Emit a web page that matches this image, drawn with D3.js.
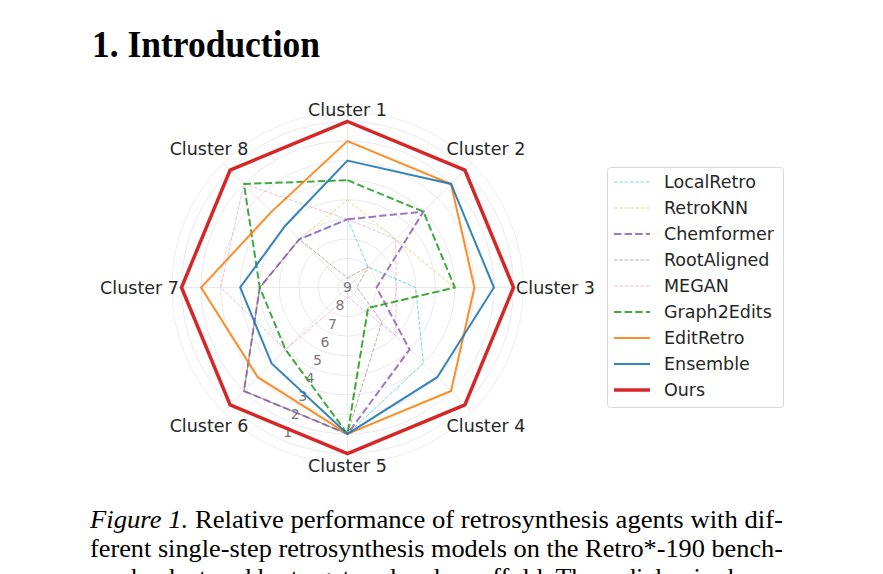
<!DOCTYPE html>
<html>
<head>
<meta charset="utf-8">
<script src="https://cdn.jsdelivr.net/npm/d3@7"></script>
<style>
  body { margin: 0; background: #fff; }
  svg { display: block; }
</style>
</head>
<body>
<script>
'use-strict';

// clusters on the spokes
let clusters = ["Cluster 1", "Cluster 2", "Cluster 3", "Cluster 4",
  "Cluster 5", "Cluster 6", "Cluster 7", "Cluster 8"];

// model names (legend order)
let models = ["LocalRetro", "RetroKNN", "Chemformer", "RootAligned", "MEGAN",
  "Graph2Edits", "EditRetro", "Ensemble", "Ours"];

// rank of each model per cluster (1 = best)
let localRetro = [6, 8, 6, 4, 2, 2, 5, 6];
let retroKNN = [5, 6, 4, 8, 2, 2, 5, 6];
let chemformer = [6, 4, 8, 5, 2, 2, 5, 6];
let rootAligned = [9, 8, 9, 7, 2, 2, 5, 6];
let megan = [6, 6, 7, 6, 9, 5, 3, 2];
let graph2Edits = [4, 4, 4, 8, 2, 5, 5, 2];
let editRetro = [2, 2, 3, 2, 2, 3, 2, 4];
let ensemble = [3, 2, 2, 3, 2, 4, 4, 5];
let ours = [1, 1, 1, 1, 1, 1, 1, 1];

// radial tick labels
let rankTicks = [1, 2, 3, 4, 5, 6, 7, 8, 9];

let rankData = [localRetro, retroKNN, chemformer, rootAligned, megan,
  graph2Edits, editRetro, ensemble, ours];

// line styles per model
let styles = [
  { color: "#17becf", width: 1, dash: "3.7,1.6", opacity: 0.6 },
  { color: "#bcbd22", width: 1, dash: "3.7,1.6", opacity: 0.5 },
  { color: "#9467bd", width: 2, dash: "7.4,3.2", opacity: 0.9 },
  { color: "#8c564b", width: 1, dash: "3.7,1.6", opacity: 0.5 },
  { color: "#e377c2", width: 1, dash: "3.7,1.6", opacity: 0.5 },
  { color: "#2ca02c", width: 2, dash: "7.4,3.2", opacity: 0.9 },
  { color: "#ff7f0e", width: 2, dash: null, opacity: 0.9 },
  { color: "#1f77b4", width: 2, dash: null, opacity: 0.9 },
  { color: "#d62728", width: 3.5, dash: null, opacity: 1 }
];

let width = 883, height = 574;
let cx = 347.5, cy = 287.5;

let svg = d3.select("body").append("svg")
  .attr("width", width)
  .attr("height", height);

// rank -> radius (rank 1 on the outside)
let rScale = d3.scaleLinear().domain([9, 1]).range([9.5, 166]);
let angle = d3.scalePoint().domain(clusters).range([0, 2 * Math.PI * 7 / 8]);

let chart = svg.append("g").attr("transform", "translate(" + cx + "," + cy + ")");

drawHeader();
drawGrid();
drawSeries();
drawLabels();
drawLegend();
drawCaption();

function drawHeader() {
  svg.append("text")
    .attr("x", 92)
    .attr("y", 57)
    .attr("font-family", "Liberation Serif, serif")
    .attr("font-weight", "bold")
    .attr("font-size", 38)
    .attr("textLength", 228)
    .attr("lengthAdjust", "spacingAndGlyphs")
    .text("1. Introduction");
}

// circles and spokes
function drawGrid() {
  let grid = chart.append("g");
  grid.selectAll(".ring")
    .data(rankTicks)
    .enter()
    .append("circle")
    .attr("r", d => rScale(d))
    .attr("fill", "none")
    .attr("stroke", "#e6e6e6")
    .attr("stroke-width", 0.9);

  grid.append("circle")
    .attr("r", rScale(0.5))
    .attr("fill", "none")
    .attr("stroke", "#ececec")
    .attr("stroke-width", 0.9);

  grid.selectAll(".spoke")
    .data(clusters)
    .enter()
    .append("line")
    .attr("x1", 0).attr("y1", 0)
    .attr("x2", d => rScale(0.5) * Math.sin(angle(d)))
    .attr("y2", d => -rScale(0.5) * Math.cos(angle(d)))
    .attr("stroke", "#e6e6e6")
    .attr("stroke-width", 0.9);

  // rank labels between cluster 5 and 6
  let a = Math.PI * 9 / 8;
  grid.selectAll(".rlabel")
    .data(rankTicks)
    .enter()
    .append("text")
    .attr("x", d => (rScale(d) - rScale(9)) * Math.sin(a))
    .attr("y", d => -(rScale(d) - rScale(9)) * Math.cos(a))
    .attr("dy", "0.35em")
    .attr("text-anchor", "middle")
    .attr("font-family", "DejaVu Sans, sans-serif")
    .attr("font-size", 14)
    .attr("fill", "#777")
    .text(d => d);
}

function drawSeries() {
  let line = d3.lineRadial()
    .angle((d, i) => angle(clusters[i]))
    .radius(d => rScale(d))
    .curve(d3.curveLinearClosed);

  chart.selectAll(".series")
    .data(rankData)
    .enter()
    .append("path")
    .attr("d", d => line(d))
    .attr("fill", "none")
    .attr("stroke", (d, i) => styles[i].color)
    .attr("stroke-width", (d, i) => styles[i].width)
    .attr("stroke-dasharray", (d, i) => styles[i].dash)
    .attr("stroke-opacity", (d, i) => styles[i].opacity)
    .attr("stroke-linejoin", "miter");
}

// cluster names round the outside
function drawLabels() {
  chart.selectAll(".clabel")
    .data(clusters)
    .enter()
    .append("text")
    .attr("x", d => {
      let a = angle(d);
      let dist = 178 + 30 * Math.pow(Math.abs(Math.sin(a)), 1.5);
      return dist * Math.sin(a);
    })
    .attr("y", d => {
      let a = angle(d);
      let dist = 178 + 30 * Math.pow(Math.abs(Math.sin(a)), 1.5);
      return -dist * Math.cos(a);
    })
    .attr("dy", "0.35em")
    .attr("text-anchor", "middle")
    .attr("font-family", "DejaVu Sans, sans-serif")
    .attr("font-size", 17.5)
    .attr("fill", "#262626")
    .text(d => d);
}

function drawLegend() {
  let lg = svg.append("g").attr("transform", "translate(607,167)");
  lg.append("rect")
    .attr("x", 0.5).attr("y", 0.5)
    .attr("width", 176).attr("height", 240)
    .attr("rx", 3)
    .attr("fill", "#fff")
    .attr("stroke", "#d9d9d9");

  let rows = lg.selectAll(".row")
    .data(models)
    .enter()
    .append("g")
    .attr("transform", (d, i) => "translate(0," + (15 + i * 26) + ")");

  rows.append("line")
    .attr("x1", 7).attr("x2", 43)
    .attr("y1", 0).attr("y2", 0)
    .attr("stroke", (d, i) => styles[i].color)
    .attr("stroke-width", (d, i) => styles[i].width)
    .attr("stroke-dasharray", (d, i) => styles[i].dash)
    .attr("stroke-opacity", (d, i) => styles[i].opacity);

  rows.append("text")
    .attr("x", 57)
    .attr("dy", "0.35em")
    .attr("font-family", "DejaVu Sans, sans-serif")
    .attr("font-size", 17.5)
    .attr("fill", "#262626")
    .text(d => d);
}

function drawCaption() {
  let font = "Liberation Serif, serif";
  let t1 = svg.append("text")
    .attr("x", 90).attr("y", 528)
    .attr("font-family", font)
    .attr("font-size", 26)
    .attr("textLength", 693)
    .attr("lengthAdjust", "spacingAndGlyphs");
  t1.append("tspan").attr("font-style", "italic").text("Figure 1.");
  t1.append("tspan").text(" Relative performance of retrosynthesis agents with dif-");

  svg.append("text")
    .attr("x", 90).attr("y", 557)
    .attr("font-family", font)
    .attr("font-size", 26)
    .attr("textLength", 693)
    .attr("lengthAdjust", "spacingAndGlyphs")
    .text("ferent single-step retrosynthesis models on the Retro*-190 bench-");

  svg.append("text")
    .attr("x", 90).attr("y", 586)
    .attr("font-family", font)
    .attr("font-size", 26)
    .attr("textLength", 693)
    .attr("lengthAdjust", "spacingAndGlyphs")
    .text("mark, clustered by target molecule scaffold. The radial axis shows");
}
</script>
</body>
</html>
